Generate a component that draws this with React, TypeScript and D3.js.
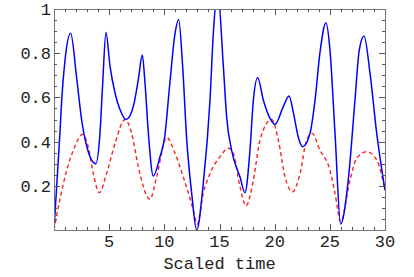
import { useEffect, useRef } from 'react';
import * as d3 from 'd3';

// readings, t = scaled time
const blueT = [0, 0.54, 0.7, 1.0, 1.51, 2.05, 2.5, 2.96, 3.78, 4.17, 4.41, 4.71, 5.08, 5.53, 5.98, 6.53, 7.19, 7.64, 8.0, 8.25, 8.55, 9.0, 9.6, 10.03, 10.5, 10.97, 11.3, 11.66, 12.03, 12.48, 12.93, 13.53, 14.14, 14.44, 14.83, 15.35, 15.65, 16.1, 16.86, 17.31, 17.76, 18.07, 18.46, 18.97, 19.58, 20.03, 20.78, 21.3, 21.7, 22.14, 22.54, 23.2, 23.66, 24.1, 24.65, 25.01, 25.47, 25.98, 26.67, 27.28, 27.67, 28.1, 28.64, 29.25, 30];
const blueV = [0, 0.44, 0.59, 0.77, 0.89, 0.69, 0.5, 0.38, 0.3, 0.44, 0.66, 0.894, 0.74, 0.62, 0.545, 0.5, 0.56, 0.68, 0.792, 0.664, 0.44, 0.244, 0.33, 0.42, 0.664, 0.89, 0.953, 0.74, 0.408, 0.166, 0.0, 0.21, 0.588, 0.89, 1.08, 0.74, 0.51, 0.36, 0.24, 0.169, 0.36, 0.588, 0.689, 0.588, 0.505, 0.478, 0.558, 0.606, 0.53, 0.42, 0.377, 0.437, 0.588, 0.8, 0.938, 0.815, 0.437, 0.027, 0.226, 0.588, 0.815, 0.878, 0.71, 0.437, 0.18];

const redT = [0, 0.54, 1.15, 1.75, 2.6, 3.1, 3.56, 4.1, 4.77, 5.53, 6.44, 7.04, 7.64, 8.7, 9.3, 10.2, 10.97, 11.72, 12.63, 12.98, 13.53, 14.14, 15.05, 15.8, 16.25, 16.86, 17.4, 18.07, 18.67, 19.73, 20.33, 20.94, 21.63, 22.3, 22.9, 23.4, 24.1, 25.01, 25.47, 25.98, 26.83, 27.43, 28.34, 29.25, 30];
const redV = [0, 0.14, 0.27, 0.36, 0.433, 0.377, 0.256, 0.169, 0.256, 0.392, 0.5, 0.437, 0.286, 0.139, 0.24, 0.419, 0.347, 0.24, 0.09, 0.027, 0.166, 0.256, 0.332, 0.37, 0.347, 0.196, 0.109, 0.226, 0.407, 0.5, 0.407, 0.24, 0.173, 0.256, 0.407, 0.437, 0.362, 0.271, 0.166, 0.038, 0.226, 0.324, 0.354, 0.317, 0.18];

const xTicks = [5, 10, 15, 20, 25, 30];
const yTicks = [0.2, 0.4, 0.6, 0.8, 1];
const xLabel = 'Scaled time';

const W = 414;
const H = 277;
const M = { left: 54, right: 29, top: 9, bottom: 47 };
const FONT = '"Liberation Mono", "Courier New", monospace';

export default function App() {
  const ref = useRef<SVGSVGElement>(null);

  useEffect(() => {
    const svg = d3.select(ref.current);
    svg.selectAll('*').remove();

    const x = d3.scaleLinear().domain([0, 30]).range([M.left, W - M.right]);
    const y = d3.scaleLinear().domain([0, 1]).range([H - M.bottom, M.top]);
    const [x0, x1] = x.range();
    const [y0, y1] = y.range();

    svg.append('defs').append('clipPath').attr('id', 'plot')
      .append('rect').attr('x', x0).attr('y', y1).attr('width', x1 - x0).attr('height', y0 - y1);

    const line = d3.line<[number, number]>()
      .x(d => x(d[0]))
      .y(d => y(d[1]))
      .curve(d3.curveMonotoneX);

    const g = svg.append('g').attr('clip-path', 'url(#plot)');
    g.append('path')
      .attr('d', line(redT.map((t, i) => [t, redV[i]] as [number, number])))
      .attr('fill', 'none').attr('stroke', '#ff2020').attr('stroke-width', 1.4)
      .attr('stroke-dasharray', '4,3');
    g.append('path')
      .attr('d', line(blueT.map((t, i) => [t, blueV[i]] as [number, number])))
      .attr('fill', 'none').attr('stroke', '#0000ff').attr('stroke-width', 1.5);

    // frame
    svg.append('rect')
      .attr('x', x0 + 0.5).attr('y', y1 + 0.5)
      .attr('width', x1 - x0).attr('height', y0 - y1)
      .attr('fill', 'none').attr('stroke', '#777').attr('stroke-width', 1);

    const tk = svg.append('g').attr('stroke', '#555').attr('stroke-width', 1);
    for (const t of d3.range(1, 30)) {
      const len = t % 5 === 0 ? 6 : 3;
      const px = Math.round(x(t)) + 0.5;
      tk.append('line').attr('x1', px).attr('x2', px).attr('y1', y0).attr('y2', y0 - len);
      tk.append('line').attr('x1', px).attr('x2', px).attr('y1', y1).attr('y2', y1 + len);
    }
    for (const v of d3.range(1, 20).map(i => i * 0.05)) {
      const major = Math.abs(Math.round(v * 5) - v * 5) < 1e-6;
      const len = major ? 6 : 3;
      const py = Math.round(y(v)) + 0.5;
      tk.append('line').attr('x1', x0).attr('x2', x0 + len).attr('y1', py).attr('y2', py);
      tk.append('line').attr('x1', x1).attr('x2', x1 - len).attr('y1', py).attr('y2', py);
    }

    const txt = svg.append('g').attr('font-family', FONT).attr('font-size', 17).attr('fill', '#222');
    txt.selectAll('text.xt').data(xTicks).join('text')
      .attr('x', d => x(d)).attr('y', y0 + 17)
      .attr('text-anchor', 'middle').text(d => String(d));
    txt.selectAll('text.yt').data(yTicks).join('text')
      .attr('x', x0 - 3).attr('y', d => y(d) + 6)
      .attr('text-anchor', 'end').text(d => String(d));
    txt.append('text')
      .attr('x', (x0 + x1) / 2).attr('y', y0 + 39)
      .attr('text-anchor', 'middle').text(xLabel);
  }, []);

  return (
    <div style={{ position: 'fixed', left: 0, top: 0, width: W, height: H, background: '#fff' }}>
      <svg ref={ref} width={W} height={H} />
    </div>
  );
}
